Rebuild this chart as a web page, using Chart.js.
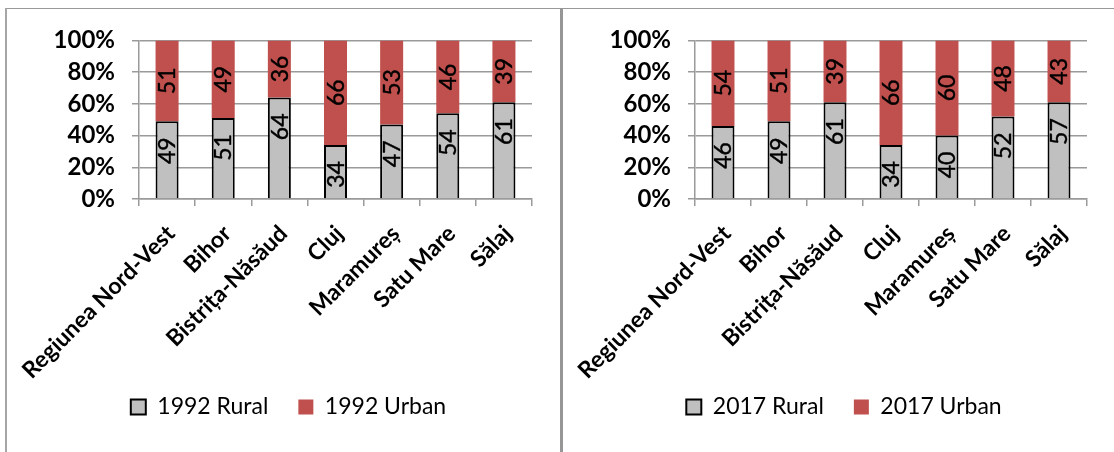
<!DOCTYPE html>
<html>
<head>
<meta charset="utf-8">
<script src="https://cdn.jsdelivr.net/npm/chart.js@4.4.1/dist/chart.umd.min.js"></script>
<style>
    body { margin: 0; background: #fff; width: 1114px; height: 452px; overflow: hidden; position: relative; }
    .line { position: absolute; background: #999; }
    canvas { position: absolute; }
</style>
</head>
<body>
<div class="line" style="left:5px; top:8px; width:1109px; height:1px;"></div>
<div class="line" style="left:5px; top:8px; width:2px; height:444px; background:#a6a6a6;"></div>
<div class="line" style="left:560px; top:8px; width:3px; height:444px; background:#969696;"></div>
<canvas id="chart1992" style="left:7px; top:9px;" width="553" height="443"></canvas>
<canvas id="chart2017" style="left:543px; top:9px;" width="571" height="443"></canvas>
<script>
// Data
const categories = ['Regiunea Nord-Vest', 'Bihor', 'Bistrița-Năsăud', 'Cluj', 'Maramureș', 'Satu Mare', 'Sălaj'];
const yTickLabels = ['0%', '20%', '40%', '60%', '80%', '100%'];

const rural1992 = [49, 51, 64, 34, 47, 54, 61];
const urban1992 = [51, 49, 36, 66, 53, 46, 39];

// bar heights as drawn (Sălaj bar reaches ~61% although labelled 57)
const rural2017 = [46, 49, 61, 34, 40, 52, 61];
const urban2017 = [54, 51, 39, 66, 60, 48, 39];
const rural2017Labels = [46, 49, 61, 34, 40, 52, 57];
const urban2017Labels = [54, 51, 39, 66, 60, 48, 43];

const GRAY = '#c0c0c0';
const RED = '#c0504d';
const GRID = '#9a9a9a';
const FONT = 'Lato, "Open Sans", sans-serif';

// draws the rotated value labels inside the bars
const barLabels = {
    id: 'barLabels',
    afterLayout(chart) {
        // let the long rotated category names run past the axis box
        chart.scales.x.bottom = chart.height;
    },
    afterDatasetsDraw(chart) {
        const ctx = chart.ctx;
        const size = 23;
        ctx.save();
        ctx.font = `${size}px ${FONT}`;
        ctx.fillStyle = '#000';
        ctx.textBaseline = 'alphabetic';
        chart.data.datasets.forEach((ds, di) => {
            const meta = chart.getDatasetMeta(di);
            meta.data.forEach((bar, i) => {
                const { x, y, base } = bar.getProps(['x', 'y', 'base'], true);
                const txt = String(ds.labelTexts[i]);
                ctx.save();
                if (di === 0) {
                    ctx.translate(x, y + 16);
                    ctx.rotate(-Math.PI / 2);
                    ctx.textAlign = 'right';
                } else {
                    ctx.translate(x, (y + base) / 2);
                    ctx.rotate(-Math.PI / 2);
                    ctx.textAlign = 'center';
                }
                ctx.fillText(txt, 0, size * 0.36);
                ctx.strokeStyle = '#000';
                ctx.lineWidth = 0.4;
                ctx.strokeText(txt, 0, size * 0.36);
                ctx.restore();
            });
        });
        ctx.restore();
    }
};

const makeChart = (id, year, rural, urban, ruralLabels, urbanLabels, pad, yWidth) => {
    const canvas = document.getElementById(id);
    return new Chart(canvas.getContext('2d'), {
        type: 'bar',
        data: {
            labels: categories,
            datasets: [{
                label: year + ' Rural',
                data: rural,
                labelTexts: ruralLabels,
                backgroundColor: GRAY,
                borderColor: '#000',
                borderWidth: 2,
                barPercentage: 0.41,
                categoryPercentage: 1
            }, {
                label: year + ' Urban',
                data: urban,
                labelTexts: urbanLabels,
                backgroundColor: RED,
                borderWidth: 0,
                barPercentage: 0.41,
                categoryPercentage: 1
            }]
        },
        options: {
            responsive: false,
            animation: false,
            layout: { padding: pad },
            scales: {
                x: {
                    stacked: true,
                    grid: { offset: true, drawOnChartArea: false, color: GRID, lineWidth: 1.5, tickLength: 7 },
                    border: { color: GRID, width: 1.5 },
                    ticks: {
                        color: '#000',
                        font: { family: FONT, size: 23, weight: 'bold' },
                        minRotation: 45,
                        maxRotation: 45,
                        padding: 14,
                        labelOffset: 4,
                        autoSkip: false
                    },
                    afterFit(scale) {
                        scale.height = 166.5;
                        scale.paddingLeft = 0;
                        scale.paddingRight = 0;
                    }
                },
                y: {
                    stacked: true,
                    min: 0,
                    max: 100,
                    grid: { color: GRID, lineWidth: 1.5, tickLength: 7 },
                    border: { color: GRID, width: 1.5 },
                    ticks: {
                        stepSize: 20,
                        autoSkip: false,
                        color: '#000',
                        padding: 17,
                        font: { family: FONT, size: 24, weight: 'bold' },
                        callback: (v) => yTickLabels[v / 20]
                    },
                    afterFit(scale) { scale.width = yWidth; }
                }
            },
            plugins: {
                legend: {
                    position: 'bottom',
                    labels: {
                        color: '#000',
                        boxWidth: 15,
                        boxHeight: 15,
                        padding: 30,
                        font: { family: FONT, size: 23 }
                    }
                },
                tooltip: { enabled: false }
            }
        },
        plugins: [barLabels]
    });
};

makeChart('chart1992', '1992', rural1992, urban1992, rural1992, urban1992,
    { left: 38, right: 28, top: 26, bottom: 23.5 }, 94);
makeChart('chart2017', '2017', rural2017, urban2017, rural2017Labels, urban2017Labels,
    { left: 58, right: 27, top: 26, bottom: 23.5 }, 94);
</script>
</body>
</html>
